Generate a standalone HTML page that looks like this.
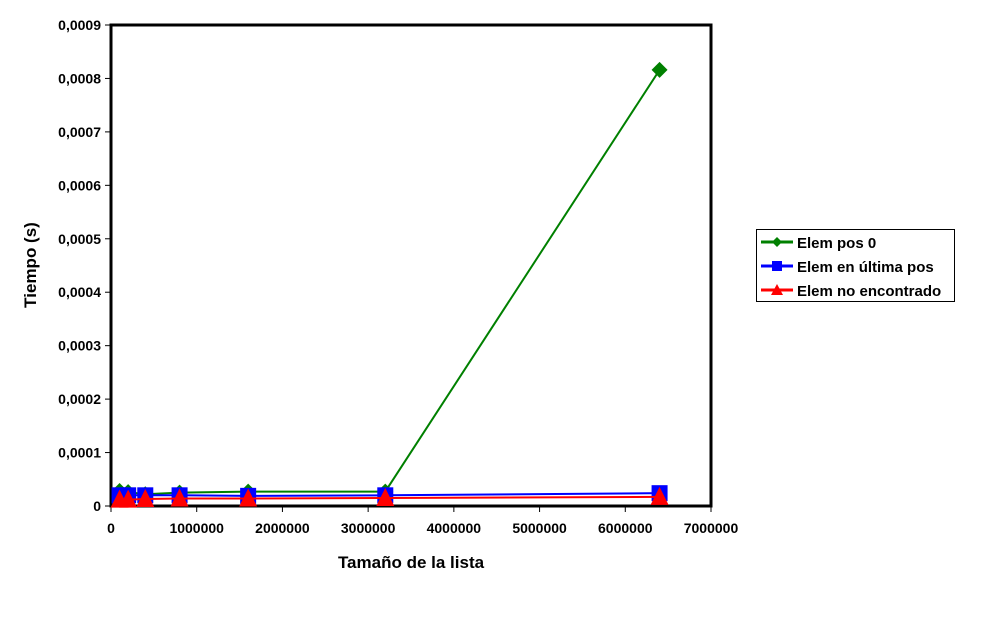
<!DOCTYPE html>
<html><head><meta charset="utf-8"><style>
body{margin:0;background:#fff;}
svg{display:block;font-family:"Liberation Sans",Arial,sans-serif;}
</style></head><body>
<svg id="chart" width="1004" height="626" viewBox="0 0 1004 626">
<rect x="0" y="0" width="1004" height="626" fill="#fff"/>
<g id="axes"></g>
<g id="series"></g>
<text x="0" y="0" transform="translate(36,265) rotate(-90)" text-anchor="middle" font-size="17" font-weight="bold">Tiempo (s)</text>
<text x="411" y="568" text-anchor="middle" font-size="17" font-weight="bold">Tamaño de la lista</text>
<g font-weight="bold">
<rect x="756.5" y="229.5" width="198" height="72" fill="#fff" stroke="#000" stroke-width="1"/>
<g>
<line x1="761" y1="242" x2="793" y2="242" stroke="#008000" stroke-width="3"/>
<polygon points="777,237 782,242 777,247 772,242" fill="#008000"/>
<text x="797" y="248" font-size="15">Elem pos 0</text></g>
<g>
<line x1="761" y1="266" x2="793" y2="266" stroke="#0000ff" stroke-width="3"/>
<rect x="772" y="261" width="10" height="10" fill="#0000ff"/>
<text x="797" y="272" font-size="15">Elem en última pos</text></g>
<g>
<line x1="761" y1="290" x2="793" y2="290" stroke="#ff0000" stroke-width="3"/>
<polygon points="777,284 783,295 771,295" fill="#ff0000"/>
<text x="797" y="296" font-size="15">Elem no encontrado</text></g>
</g>
</svg>
<script>
const xValues=[100000,200000,400000,800000,1600000,3200000,6400000];
const pos0=[0.000028,0.000026,0.000022,0.000025,0.000027,0.000027,0.000816];
const ultimaPos=[0.00002,0.00002,0.00002,0.00002,0.000019,0.00002,0.000024];
const noEncontrado=[0.000012,0.000012,0.000013,0.000014,0.000014,0.000015,0.000017];
const xTicks=[0,1000000,2000000,3000000,4000000,5000000,6000000,7000000];
const yTicks=[0,0.0001,0.0002,0.0003,0.0004,0.0005,0.0006,0.0007,0.0008,0.0009];
const L=111,R=711,T=25,B=506,XMAX=7000000,YMAX=0.0009;
const sx=v=>L+(v/XMAX)*(R-L);
const sy=v=>B-(v/YMAX)*(B-T);
const NS="http://www.w3.org/2000/svg";
function mk(tag,attrs,parent){const e=document.createElementNS(NS,tag);for(const k in attrs)e.setAttribute(k,attrs[k]);parent.appendChild(e);return e;}
const axes=document.getElementById('axes'),series=document.getElementById('series');
yTicks.forEach(t=>{const y=sy(t);
 const tk=mk('line',{x1:L-6,x2:L,y1:y,y2:y,stroke:'#000','stroke-width':1},axes);
 
 
 const tx=mk('text',{x:L-10,y:y+5,'text-anchor':'end','font-size':14,'font-weight':'bold'},axes);
 tx.textContent=t===0?'0':t.toFixed(4).replace('.',',');
 
 
});
xTicks.forEach(t=>{const x=sx(t);
 const tk=mk('line',{x1:x,x2:x,y1:B,y2:B+6,stroke:'#000','stroke-width':1},axes);
 
 
 const tx=mk('text',{x:x,y:B+27,'text-anchor':'middle','font-size':14,'font-weight':'bold'},axes);
 tx.textContent=String(t);
 
 
});
const frame=mk('rect',{x:L,y:T,width:R-L,height:B-T,fill:'none',stroke:'#000','stroke-width':3},axes);


function drawSeries(vals,color,shape,name){
 const g=mk('g',{},series);
 
 
 const pts=vals.map((v,i)=>sx(xValues[i])+','+sy(v)).join(' ');
 const pl=mk('polyline',{points:pts,fill:'none',stroke:color,'stroke-width':2},g);
 
 
 vals.forEach((v,i)=>{const x=sx(xValues[i]),y=sy(v);let m;
  if(shape==='diamond')m=mk('polygon',{points:`${x},${y-8} ${x+8},${y} ${x},${y+8} ${x-8},${y}`,fill:color},g);
  else if(shape==='square')m=mk('rect',{x:x-8,y:y-8,width:16,height:16,fill:color},g);
  else m=mk('polygon',{points:`${x},${y-10} ${x+9},${y+8} ${x-9},${y+8}`,fill:color},g);
  
  
 });
}
drawSeries(pos0,'#008000','diamond','series-pos0');
drawSeries(ultimaPos,'#0000ff','square','series-ultima-pos');
drawSeries(noEncontrado,'#ff0000','triangle','series-no-encontrado');
</script>
</body></html>
